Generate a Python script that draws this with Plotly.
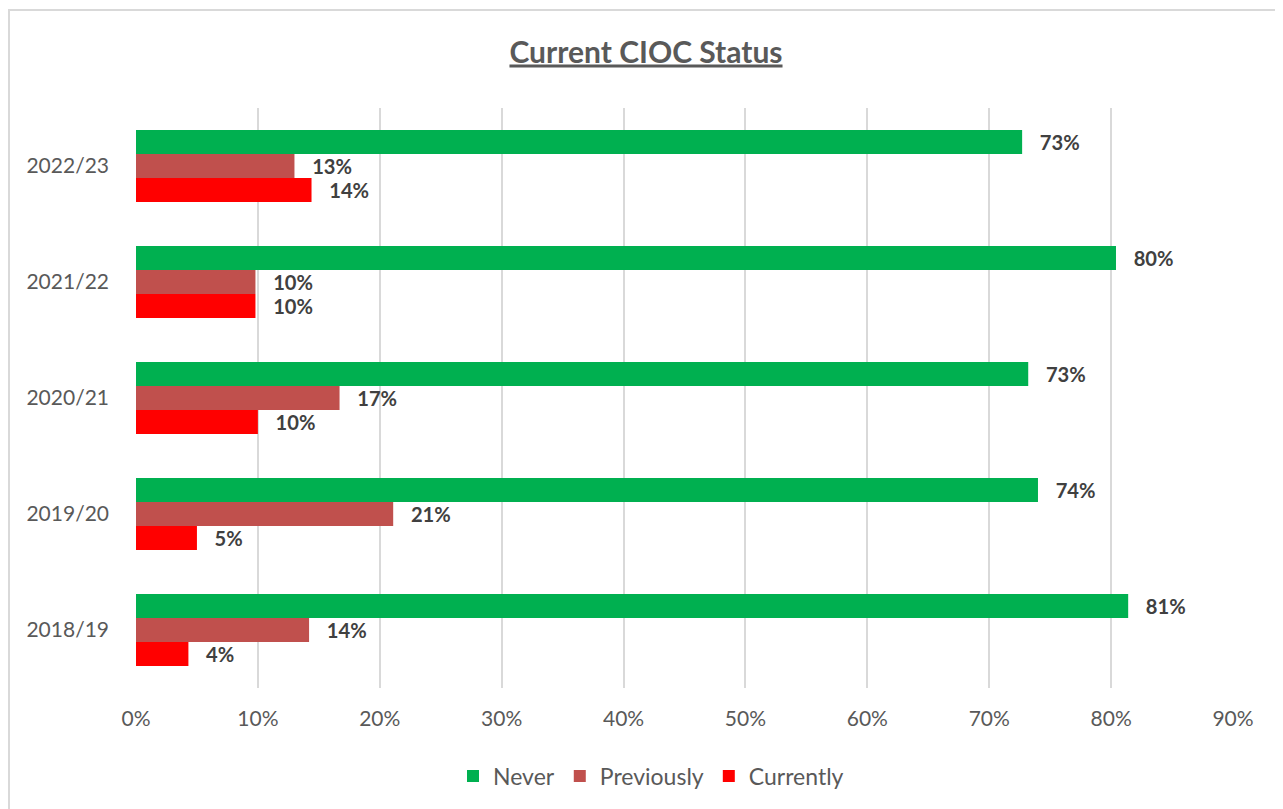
import plotly.graph_objects as go

categories = ["2018/19", "2019/20", "2020/21", "2021/22", "2022/23"]
never = [81.4, 74.0, 73.2, 80.4, 72.7]
previously = [14.2, 21.1, 16.7, 9.8, 13.0]
currently = [4.3, 5.0, 10.0, 9.8, 14.4]
tick_vals = [0, 10, 20, 30, 40, 50, 60, 70, 80, 90]
tick_text = [f"{v}%" for v in tick_vals]

FONT = "Lato, 'Open Sans', sans-serif"
OFF = 8  # page body margin
W, H = 1283, 809
L, R, T, B = 136 - OFF, 58, 108 - OFF, 129
pw, ph = W - L - R, H - T - B

def px_x(x):
    return (x - OFF - L) / pw

def px_y(y):
    return (H - B - (y - OFF)) / ph

fig = go.Figure()
series = [("Currently", currently, "#FF0000"),
          ("Previously", previously, "#C0504D"),
          ("Never", never, "#00B050")]
NB = "\u00a0\u00a0\u00a0"
for name, vals, col in series:
    fig.add_trace(go.Bar(
        name=name, y=categories, x=vals, orientation="h",
        marker=dict(color=col, line=dict(width=0)),
        text=[f"{NB}{round(v)}%" for v in vals], textposition="outside",
        textfont=dict(family=FONT, size=21, color="#404040", weight="bold"),
        cliponaxis=False,
    ))

fig.update_layout(
    width=W, height=H,
    margin=dict(l=L, r=R, t=T, b=B),
    paper_bgcolor="white", plot_bgcolor="white",
    barmode="group", bargap=0.38, bargroupgap=0,
    title=dict(text="<u><b>Current CIOC Status</b></u>", xref="container",
               x=(646 - OFF) / W, xanchor="center",
               yref="container", y=1 - (52 - OFF) / H, yanchor="middle",
               font=dict(family=FONT, size=30, color="#595959")),
    xaxis=dict(range=[0, 90], tickvals=tick_vals, ticktext=tick_text,
               showgrid=True, gridcolor="#D9D9D9", gridwidth=1.5,
               zeroline=False, showline=False, ticks="",
               ticklabelstandoff=16,
               tickfont=dict(family=FONT, size=21, color="#595959")),
    yaxis=dict(categoryorder="array", categoryarray=categories,
               showgrid=False, zeroline=False, showline=False, ticks="",
               ticklabelstandoff=26,
               tickfont=dict(family=FONT, size=21, color="#595959")),
    legend=dict(orientation="h", xref="container", x=(651 - OFF) / W, xanchor="center",
                yref="container", y=1 - (776 - OFF) / H, yanchor="middle",
                traceorder="reversed",
                font=dict(family=FONT, size=23, color="#595959"),
                itemwidth=30),
    showlegend=True,
    shapes=[
        dict(type="line", xref="paper", yref="paper",
             x0=px_x(OFF), x1=px_x(1300), y0=px_y(10), y1=px_y(10),
             line=dict(color="#D9D9D9", width=2)),
        dict(type="line", xref="paper", yref="paper",
             x0=px_x(OFF + 1), x1=px_x(OFF + 1), y0=px_y(10), y1=px_y(830),
             line=dict(color="#D9D9D9", width=2)),
    ],
)

fig.write_html("out.html")
